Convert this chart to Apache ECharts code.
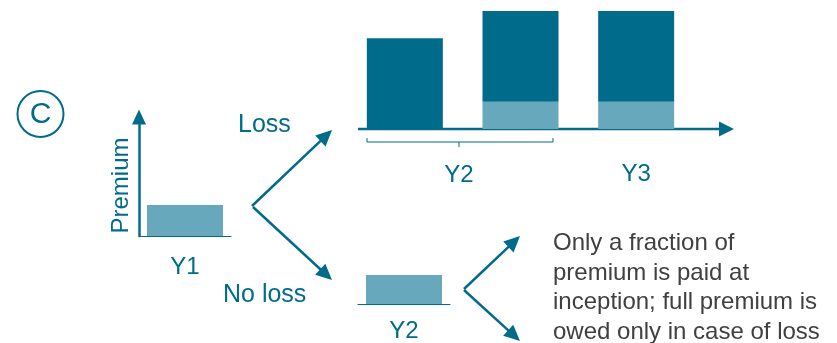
<!DOCTYPE html>
<html><head><meta charset="utf-8">
<script src="https://cdn.jsdelivr.net/npm/echarts@6/dist/echarts.min.js"></script>
<style>html,body{margin:0;padding:0;background:#fff}#c{width:837px;height:343px}</style>
</head><body><div id="c"></div>
<script>
// ---- data ----
const y1Cats = ['Y1'];
const y1Values = [26];
const lossCats = ['Y2 (remainder)', 'Y2', 'Y3'];
const lossPaid = [0, 23, 23];
const lossOwed = [77, 77, 77];
const noLossCats = ['Y2'];
const noLossValues = [25];
const descText = ['Only a fraction of', 'premium is paid at', 'inception; full premium is', 'owed only in case of loss'];

// ---- styles ----
const teal = '#016B8B', light = '#67A8BC', gray = '#404040';
const FONT = 'Liberation Sans, Arial, sans-serif';

function arrow(x1, y1, x2, y2, head, hw) {
  head = head || 16; hw = hw || 7.5;
  const dx = x2 - x1, dy = y2 - y1, L = Math.hypot(dx, dy), ux = dx / L, uy = dy / L;
  const bx = x2 - ux * head, by = y2 - uy * head;
  return [
    {type: 'line', shape: {x1: x1, y1: y1, x2: bx + ux * 2, y2: by + uy * 2}, style: {stroke: teal, lineWidth: 2.5}},
    {type: 'polygon', shape: {points: [[x2, y2], [bx - uy * hw, by + ux * hw], [bx + uy * hw, by - ux * hw]]}, style: {fill: teal}}
  ];
}
function txt(x, y, s, size, color, align) {
  return {type: 'text', x: x, y: y, style: {text: s, fontSize: size, fontFamily: FONT, fill: color, align: align || 'left', verticalAlign: 'middle'}};
}

const chart = echarts.init(document.getElementById('c'));
const hiddenY = {show: true, axisLine: {show: false}, axisTick: {show: false}, axisLabel: {show: false}, splitLine: {show: false}};

const graphics = [].concat(
  [{type: 'circle', shape: {cx: 40.5, cy: 114, r: 23}, style: {stroke: teal, lineWidth: 2, fill: 'none'}},
   txt(40.5, 115, 'C', 30, teal, 'center'),
   txt(238, 125, 'Loss', 25, teal),
   txt(223, 295, 'No loss', 25, teal),
   txt(459, 175, 'Y2', 24, teal, 'center'),
   {type: 'polyline', shape: {points: [[367, 138], [367, 142], [553, 142], [553, 138]]}, style: {stroke: teal, lineWidth: 1, fill: 'none'}},
   {type: 'line', shape: {x1: 459, y1: 142, x2: 459, y2: 147}, style: {stroke: teal, lineWidth: 1}},
   {type: 'text', x: 553, y: 229, style: {text: descText.join('\n'), fontSize: 24, lineHeight: 29.5, fontFamily: FONT, fill: gray, align: 'left', verticalAlign: 'top'}}
  ],
  arrow(252, 206, 332, 130),
  arrow(253, 207, 332, 280),
  arrow(358, 129, 734, 129, 15, 7.5),
  arrow(464, 289, 520, 236),
  arrow(464, 290, 520, 341)
);

chart.setOption({
  animation: false,
  grid: [
    {left: 139, top: 117, width: 92, height: 119},
    {left: 347, top: 11, width: 347, height: 118},
    {left: 358, top: 188, width: 92, height: 118}
  ],
  xAxis: [
    {gridIndex: 0, type: 'category', data: y1Cats, axisLine: {lineStyle: {color: teal, width: 1}}, axisTick: {show: false},
     axisLabel: {color: teal, fontSize: 24, fontFamily: FONT, margin: 19}},
    {gridIndex: 1, type: 'category', data: lossCats, axisLine: {show: false}, axisTick: {show: false},
     axisLabel: {color: teal, fontSize: 24, fontFamily: FONT, margin: 33, formatter: function (v, i) { return i === 2 ? v : ''; }}},
    {gridIndex: 2, type: 'category', data: noLossCats, axisLine: {lineStyle: {color: teal, width: 1}}, axisTick: {show: false},
     axisLabel: {color: teal, fontSize: 24, fontFamily: FONT, margin: 15}}
  ],
  yAxis: [
    {gridIndex: 0, type: 'value', min: 0, max: 100, name: 'Premium', nameLocation: 'middle', nameRotate: 90, nameGap: 6,
     nameTextStyle: {color: teal, fontSize: 24, fontFamily: FONT, padding: [0, 18, 0, 0]},
     axisLine: {show: true, symbol: ['none', 'triangle'], symbolSize: [14, 15], lineStyle: {color: teal, width: 2.5}},
     axisTick: {show: false}, axisLabel: {show: false}, splitLine: {show: false}},
    Object.assign({gridIndex: 1, type: 'value', min: 0, max: 100}, hiddenY),
    Object.assign({gridIndex: 2, type: 'value', min: 0, max: 100}, hiddenY)
  ],
  series: [
    {type: 'bar', name: 'Paid', xAxisIndex: 0, yAxisIndex: 0, data: y1Values, barWidth: 76, itemStyle: {color: light}},
    {type: 'bar', name: 'Paid', xAxisIndex: 1, yAxisIndex: 1, stack: 'loss', data: lossPaid, barWidth: 76, itemStyle: {color: light}},
    {type: 'bar', name: 'Owed', xAxisIndex: 1, yAxisIndex: 1, stack: 'loss', data: lossOwed, barWidth: 76, itemStyle: {color: teal}},
    {type: 'bar', name: 'Paid', xAxisIndex: 2, yAxisIndex: 2, data: noLossValues, barWidth: 76, itemStyle: {color: light}}
  ],
  graphic: graphics
});
</script></body></html>
